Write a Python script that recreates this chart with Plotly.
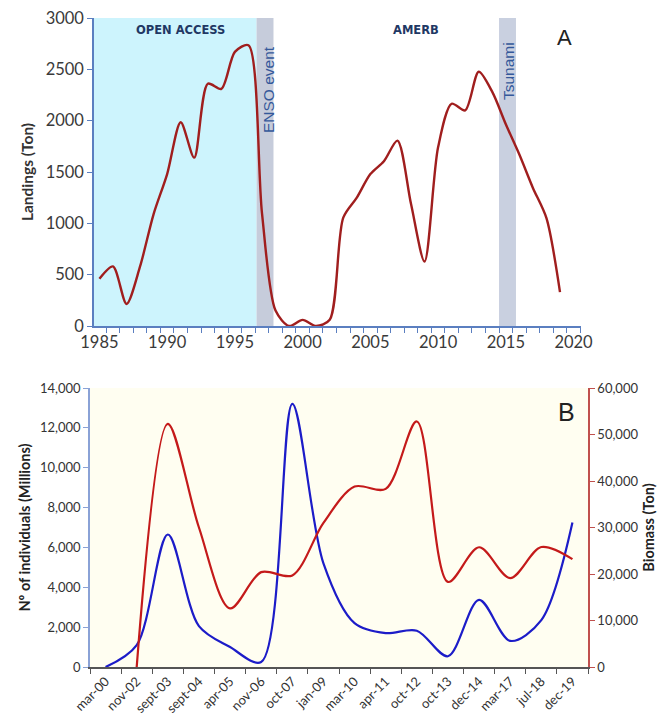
import plotly.graph_objects as go

# ---- Panel A data ----
years = list(range(1985, 2020))
landings = [460, 580, 215, 580, 1090, 1480, 1985, 1640, 2360, 2310, 2670, 2735, 1100, 150, 0, 60, 0, 60,
            1055, 1250, 1480, 1605, 1806, 1190, 628, 1740, 2165, 2100, 2476, 2280, 1965, 1670, 1345, 1050, 330]
a_xticks = [1985, 1990, 1995, 2000, 2005, 2010, 2015, 2020]
a_yticks = [0, 500, 1000, 1500, 2000, 2500, 3000]

# periods (start, end) in years
open_access = (1984.5, 1996.6)
enso = (1996.6, 1997.85)
tsunami = (2014.5, 2015.75)

# ---- Panel B data ----
dates = ["mar-00", "nov-02", "sept-03", "sept-04", "apr-05", "nov-06", "oct-07", "jan-09",
         "mar-10", "apr-11", "oct-12", "oct-13", "dec-14", "mar-17", "jul-18", "dec-19"]
individuals = [0, 1100, 6650, 2050, 1000, 250, 13200, 5200, 2200, 1700, 1820, 540, 3370, 1310, 2350, 7250]
biomass = [None, 0, 52300, 30000, 12600, 20400, 19700, 31000, 38800, 38300, 52800, 18300, 25750, 19100, 25800, 23200]

OFF = 8  # page body margin
W, H = 669 - OFF, 723 - OFF
def px_x(p): return (p - OFF) / W
def px_y(p): return 1 - (p - OFF) / H

fig = go.Figure()

fig.add_trace(go.Scatter(x=years, y=landings, mode="lines", xaxis="x", yaxis="y",
                         line=dict(color="#a01e1e", width=2.4, shape="spline", smoothing=0.8),
                         showlegend=False, hoverinfo="skip"))

fig.add_trace(go.Scatter(x=dates, y=individuals, mode="lines", xaxis="x2", yaxis="y2",
                         line=dict(color="#1c1cc8", width=2.2, shape="spline", smoothing=0.9),
                         showlegend=False))
fig.add_trace(go.Scatter(x=dates, y=biomass, mode="lines", xaxis="x2", yaxis="y3",
                         line=dict(color="#c41a1a", width=2.2, shape="spline", smoothing=0.9),
                         showlegend=False))

shapes = [
    dict(type="rect", xref="x", yref="y", x0=open_access[0], x1=open_access[1], y0=0, y1=3000,
         fillcolor="#cdf4fd", line_width=0, layer="below"),
    dict(type="rect", xref="x", yref="y", x0=enso[0], x1=enso[1], y0=0, y1=3000,
         fillcolor="#c6ccdb", line_width=0, layer="below"),
    dict(type="rect", xref="x", yref="y", x0=tsunami[0], x1=tsunami[1], y0=0, y1=3000,
         fillcolor="#c9d0e0", line_width=0, layer="below"),
    dict(type="rect", xref="x2 domain", yref="y2 domain", x0=0, x1=1, y0=0, y1=1,
         fillcolor="#fffef1", line_width=0, layer="below"),
]

def note(text, x, y, size, color, angle=0, family="Liberation Sans"):
    return dict(text=text, x=px_x(x), y=px_y(y), xref="paper", yref="paper",
                xanchor="center", yanchor="middle", textangle=angle, showarrow=False,
                font=dict(size=size, color=color, family=family))

ann = [
    note("<b>OPEN ACCESS</b>", 180, 30, 11.5, "#1f3864", family="DejaVu Sans"),
    note("<b>AMERB</b>", 416, 30, 11.5, "#1f3864", family="DejaVu Sans"),
    note("ENSO event", 268, 90, 15.5, "#34589a", -90),
    note("Tsunami", 509, 71, 15.5, "#34589a", -90),
    note("A", 564, 37, 22, "#222222"),
    note("B", 566, 412, 25, "#222222"),
]

tickfontA = dict(size=16.5, color="#3a3a3a", family="Lato")
tickfontB = dict(size=13, color="#333333", family="Lato")

fig.update_layout(
    width=W, height=H, margin=dict(l=0, r=0, t=0, b=0),
    paper_bgcolor="white", plot_bgcolor="rgba(0,0,0,0)",
    showlegend=False, shapes=shapes, annotations=ann,
    xaxis=dict(domain=[px_x(94), px_x(581)], anchor="y", range=[1984.6, 2020.55],
               tickvals=a_xticks, ticks="", showgrid=False, zeroline=False,
               showline=True, linecolor="#5b7fc0", linewidth=1.5,
               tickfont=tickfontA, automargin=False, ticklabeloverflow="allow",
               minor=dict(tick0=1984.5, dtick=1, ticks="outside", ticklen=5,
                          tickcolor="#5b7fc0", showgrid=False)),
    yaxis=dict(domain=[px_y(326), px_y(18)], anchor="x", range=[0, 3000],
               tickvals=a_yticks, ticks="outside", ticklen=5, tickcolor="#5b7fc0",
               showgrid=False, zeroline=False, showline=True, linecolor="#5b7fc0", linewidth=1.5,
               tickfont=tickfontA, automargin=False, ticklabeloverflow="allow",
               title=dict(text="<b>Landings (Ton)</b>", font=dict(size=15.5, color="#333333", family="Lato"),
                          standoff=8)),
    xaxis2=dict(domain=[px_x(90), px_x(588)], anchor="y2", type="category",
                categoryorder="array", categoryarray=dates, range=[-0.5, 15.5],
                tickson="boundaries", ticks="outside", ticklen=5, tickcolor="#555555",
                showgrid=False, zeroline=False, showline=True, linecolor="#555555", linewidth=1.5,
                tickangle=-45, tickfont=tickfontB, automargin=False, ticklabeloverflow="allow"),
    yaxis2=dict(domain=[px_y(667), px_y(388)], anchor="x2", range=[0, 14000], dtick=2000,
                tickformat=",", ticks="outside", ticklen=5, tickcolor="#8aa2d6",
                showgrid=False, zeroline=False, showline=True, linecolor="#8aa2d6", linewidth=1.5,
                tickfont=tickfontB, automargin=False, ticklabeloverflow="allow",
                title=dict(text="<b>Nº of individuals (Millions)</b>",
                           font=dict(size=14.5, color="#222222", family="Lato"), standoff=6)),
    yaxis3=dict(overlaying="y2", side="right", anchor="x2", range=[0, 60000], dtick=10000,
                tickformat=",", ticks="outside", ticklen=5, tickcolor="#c0504d",
                showgrid=False, zeroline=False, showline=True, linecolor="#c0504d", linewidth=1.5,
                tickfont=tickfontB, automargin=False, ticklabeloverflow="allow",
                title=dict(text="<b>Biomass (Ton)</b>",
                           font=dict(size=14.5, color="#222222", family="Lato"), standoff=6)),
)

fig.write_html("out.html")
